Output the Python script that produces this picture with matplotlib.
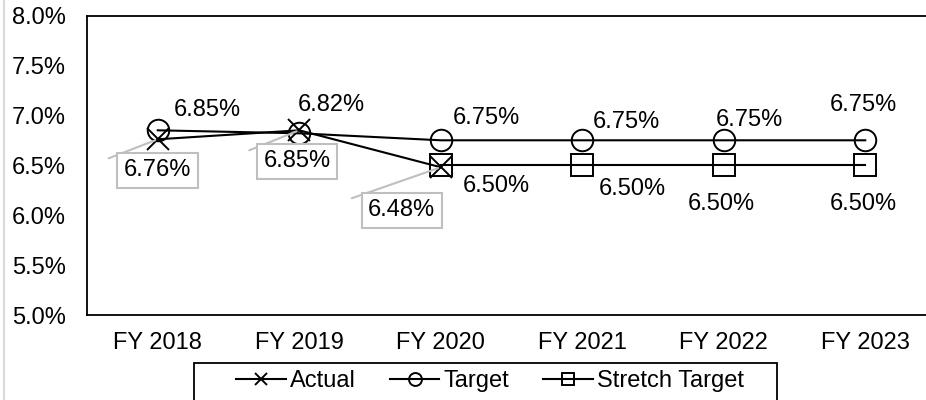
import matplotlib
matplotlib.use('Agg')
import matplotlib.pyplot as plt
from matplotlib.lines import Line2D
from matplotlib.patches import Rectangle

years = ['FY 2018', 'FY 2019', 'FY 2020', 'FY 2021', 'FY 2022', 'FY 2023']
actual = [6.76, 6.85, 6.48]
target = [6.85, 6.82, 6.75, 6.75, 6.75, 6.75]
stretch = [6.50, 6.50, 6.50, 6.50]

# label offsets in pixels (dx, dy) from the point
target_off = [(50, 20), (32, 28), (46, 22), (44, 18), (26, 20), (-2, 35)]
stretch_off = [(56, -21), (50, -24), (-2, -39), (-2, -39)]
actual_off = [(0, -31), (-2, -31), (-39, -43)]
leader_start = [(-49, -19), (-50, -20), (-89, -31)]

PX = 0.72  # pixels -> points at dpi 100

plt.rcParams['font.family'] = ['Liberation Sans', 'DejaVu Sans']
plt.rcParams['font.size'] = 17

fig = plt.figure(figsize=(9.26, 4.0), dpi=100)
ax = fig.add_axes([87 / 926, 85 / 400, 849 / 926, 299.5 / 400])

x_all = list(range(len(years)))
x_act = x_all[:len(actual)]
x_str = x_all[len(years) - len(stretch):]

mk = dict(markersize=15.5, markerfacecolor='none', markeredgecolor='black', markeredgewidth=1.4)
ax.plot(x_act, actual, color='black', lw=1.5, marker='x', label='Actual', **mk)
ax.plot(x_all, target, color='black', lw=1.5, marker='o', label='Target', **mk)
ax.plot(x_str, stretch, color='black', lw=1.5, marker='s', label='Stretch Target', **mk)

for x, v, (dx, dy) in zip(x_all, target, target_off):
    ax.annotate(f'{v:.2f}%', (x, v), xytext=(dx * PX, dy * PX), textcoords='offset points',
                ha='center', va='center')
for x, v, (dx, dy) in zip(x_str, stretch, stretch_off):
    ax.annotate(f'{v:.2f}%', (x, v), xytext=(dx * PX, dy * PX), textcoords='offset points',
                ha='center', va='center')
for x, v, (dx, dy), (sx, sy) in zip(x_act, actual, actual_off, leader_start):
    ax.annotate('', (x, v), xytext=(sx * PX, sy * PX), textcoords='offset points',
                arrowprops=dict(arrowstyle='-', color='#bfbfbf', lw=1.5, shrinkA=0, shrinkB=2))
    ax.annotate(f'{v:.2f}%', (x, v), xytext=(dx * PX, dy * PX), textcoords='offset points',
                ha='center', va='center', zorder=5,
                bbox=dict(boxstyle='square,pad=0.28', fc='white', ec='#bfbfbf', lw=1.5))

ax.set_xlim(-0.5, len(years) - 0.5)
ax.set_ylim(5.0, 8.0)
ax.set_yticks([5.0, 5.5, 6.0, 6.5, 7.0, 7.5, 8.0])
ax.set_yticklabels([f'{t:.1f}%' for t in ax.get_yticks()])
ax.set_xticks(x_all)
ax.set_xticklabels(years)
ax.tick_params(axis='both', length=0, labelsize=17)
ax.tick_params(axis='y', pad=15)
ax.tick_params(axis='x', pad=12)
for s in ax.spines.values():
    s.set_linewidth(1.3)
    s.set_color('black')

fig.add_artist(Line2D([3.5 / 926, 3.5 / 926], [0, 1], color='#d9d9d9', lw=1.5))

# legend frame drawn separately, it runs off the bottom of the picture
fig.add_artist(Rectangle((194 / 926, -0.05), (777 - 194) / 926, 0.05 + (400 - 363) / 400,
                         transform=fig.transFigure, fill=False, ec='black', lw=1.3))
leg = fig.legend(loc='center', bbox_to_anchor=(490 / 926, 1 - 381 / 400), ncol=3,
                 frameon=False, fontsize=17,
                 handlelength=2.1, handletextpad=0.17, columnspacing=1.44, markerscale=0.6,
                 borderpad=0, borderaxespad=0)

fig.savefig('out.png', dpi=100)
